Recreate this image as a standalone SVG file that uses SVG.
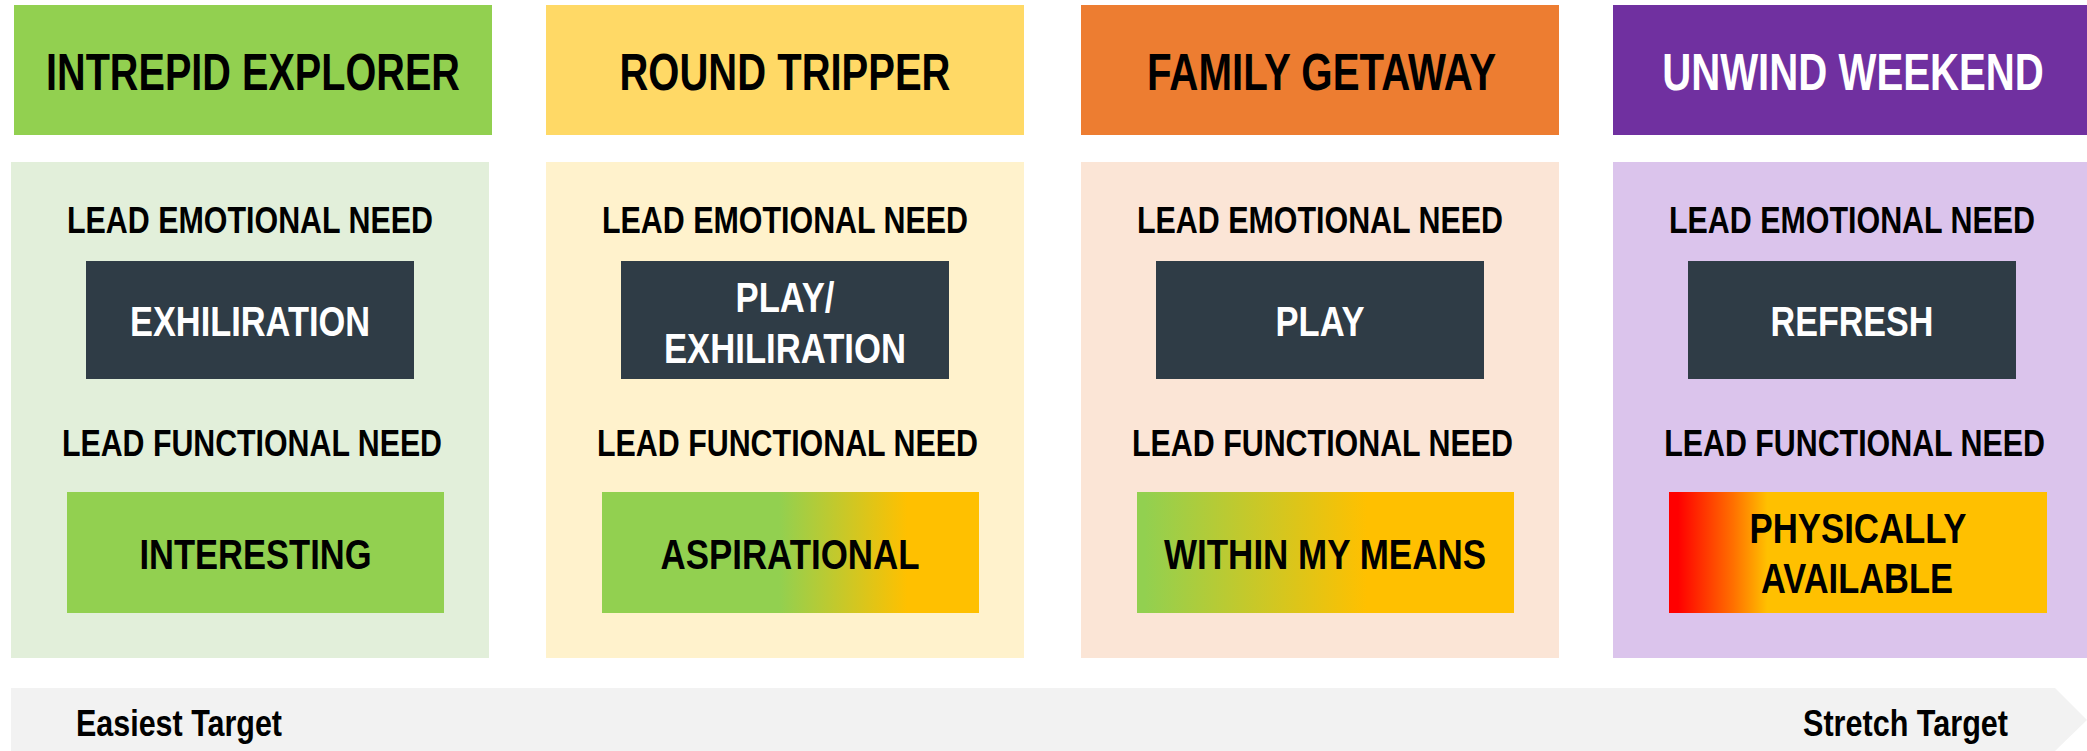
<svg xmlns="http://www.w3.org/2000/svg" width="2087" height="751" viewBox="0 0 2087 751">
<defs>
<style>
.hd{font-family:"Liberation Sans Narrow","Liberation Sans",Arial,sans-serif;font-weight:bold;font-size:52px;text-anchor:middle}
.lb{font-family:"Liberation Sans Narrow","Liberation Sans",Arial,sans-serif;font-weight:bold;font-size:37.5px;text-anchor:middle;fill:#000}
.em{font-family:"Liberation Sans Narrow","Liberation Sans",Arial,sans-serif;font-weight:bold;font-size:43px;text-anchor:middle;fill:#fff}
.fn{font-family:"Liberation Sans Narrow","Liberation Sans",Arial,sans-serif;font-weight:bold;font-size:43px;text-anchor:middle;fill:#000}
.tg{font-family:"Liberation Sans Narrow","Liberation Sans",Arial,sans-serif;font-weight:bold;font-size:37px;fill:#000}
.dark{fill:#2F3C46}
</style>
<linearGradient id="g2" x1="0" y1="0" x2="1" y2="0">
<stop offset="0.47" stop-color="#92D050"/>
<stop offset="0.81" stop-color="#FFC000"/>
</linearGradient>
<linearGradient id="g3" x1="0" y1="0" x2="1" y2="0">
<stop offset="0.02" stop-color="#92D050"/>
<stop offset="0.61" stop-color="#FFC000"/>
</linearGradient>
<linearGradient id="g4" x1="0" y1="0" x2="1" y2="0">
<stop offset="0.024" stop-color="#FF0000"/>
<stop offset="0.17" stop-color="#FF7000"/>
<stop offset="0.26" stop-color="#FFC000"/>
</linearGradient>
</defs>
<rect width="2087" height="751" fill="#fff"/>

<g id="scale-arrow">
<polygon points="11,688 2055,688 2087,720 2055,751 11,751" fill="#F2F2F2"/>
<text class="tg" x="76" y="736" textLength="206" lengthAdjust="spacingAndGlyphs">Easiest Target</text>
<text class="tg" x="1803" y="736" textLength="205" lengthAdjust="spacingAndGlyphs">Stretch Target</text>
</g>

<g id="col-intrepid-explorer">
<rect x="14" y="5" width="478" height="130" fill="#92D050"/>
<text class="hd" x="253" y="90" fill="#000" textLength="414" lengthAdjust="spacingAndGlyphs">INTREPID EXPLORER</text>
<rect x="11" y="162" width="478" height="496" fill="#E2EFDA"/>
<text class="lb" x="250" y="233" textLength="366" lengthAdjust="spacingAndGlyphs">LEAD EMOTIONAL NEED</text>
<rect class="dark" x="86" y="261" width="328" height="118"/>
<text class="em" x="250" y="336" textLength="240" lengthAdjust="spacingAndGlyphs">EXHILIRATION</text>
<text class="lb" x="252" y="456" textLength="380" lengthAdjust="spacingAndGlyphs">LEAD FUNCTIONAL NEED</text>
<rect x="67" y="492" width="377" height="121" fill="#92D050"/>
<text class="fn" x="255.5" y="569" textLength="232" lengthAdjust="spacingAndGlyphs">INTERESTING</text>
</g>

<g id="col-round-tripper">
<rect x="546" y="5" width="478" height="130" fill="#FFD966"/>
<text class="hd" x="785" y="90" fill="#000" textLength="331" lengthAdjust="spacingAndGlyphs">ROUND TRIPPER</text>
<rect x="546" y="162" width="478" height="496" fill="#FFF2CC"/>
<text class="lb" x="785" y="233" textLength="366" lengthAdjust="spacingAndGlyphs">LEAD EMOTIONAL NEED</text>
<rect class="dark" x="621" y="261" width="328" height="118"/>
<text class="em" x="785" y="312" textLength="99" lengthAdjust="spacingAndGlyphs">PLAY/</text>
<text class="em" x="785" y="363" textLength="242" lengthAdjust="spacingAndGlyphs">EXHILIRATION</text>
<text class="lb" x="787.5" y="456" textLength="381" lengthAdjust="spacingAndGlyphs">LEAD FUNCTIONAL NEED</text>
<rect x="602" y="492" width="377" height="121" fill="url(#g2)"/>
<text class="fn" x="790" y="569" textLength="259" lengthAdjust="spacingAndGlyphs">ASPIRATIONAL</text>
</g>

<g id="col-family-getaway">
<rect x="1081" y="5" width="478" height="130" fill="#ED7D31"/>
<text class="hd" x="1321.5" y="90" fill="#000" textLength="349" lengthAdjust="spacingAndGlyphs">FAMILY GETAWAY</text>
<rect x="1081" y="162" width="478" height="496" fill="#FBE5D6"/>
<text class="lb" x="1320" y="233" textLength="366" lengthAdjust="spacingAndGlyphs">LEAD EMOTIONAL NEED</text>
<rect class="dark" x="1156" y="261" width="328" height="118"/>
<text class="em" x="1320" y="336" textLength="89" lengthAdjust="spacingAndGlyphs">PLAY</text>
<text class="lb" x="1322.5" y="456" textLength="381" lengthAdjust="spacingAndGlyphs">LEAD FUNCTIONAL NEED</text>
<rect x="1137" y="492" width="377" height="121" fill="url(#g3)"/>
<text class="fn" x="1325" y="569" textLength="322" lengthAdjust="spacingAndGlyphs">WITHIN MY MEANS</text>
</g>

<g id="col-unwind-weekend">
<rect x="1613" y="5" width="474" height="130" fill="#7030A0"/>
<text class="hd" x="0" y="0" fill="#fff" transform="translate(1853,90) scale(0.75,1)" textLength="509" lengthAdjust="spacingAndGlyphs">UNWIND WEEKEND</text>
<rect x="1613" y="162" width="474" height="496" fill="#DBC4EC"/>
<text class="lb" x="0" y="0" transform="translate(1852,233) scale(0.81,1)" textLength="452" lengthAdjust="spacingAndGlyphs">LEAD EMOTIONAL NEED</text>
<rect class="dark" x="1688" y="261" width="328" height="118"/>
<text class="em" x="1852" y="336" textLength="163" lengthAdjust="spacingAndGlyphs">REFRESH</text>
<text class="lb" x="0" y="0" transform="translate(1854.5,456) scale(0.81,1)" textLength="470" lengthAdjust="spacingAndGlyphs">LEAD FUNCTIONAL NEED</text>
<rect x="1669" y="492" width="378" height="121" fill="url(#g4)"/>
<text class="fn" x="1858" y="543" textLength="217" lengthAdjust="spacingAndGlyphs">PHYSICALLY</text>
<text class="fn" x="1857" y="593" textLength="192" lengthAdjust="spacingAndGlyphs">AVAILABLE</text>
</g>

<g id="connectors"></g>
</svg>
